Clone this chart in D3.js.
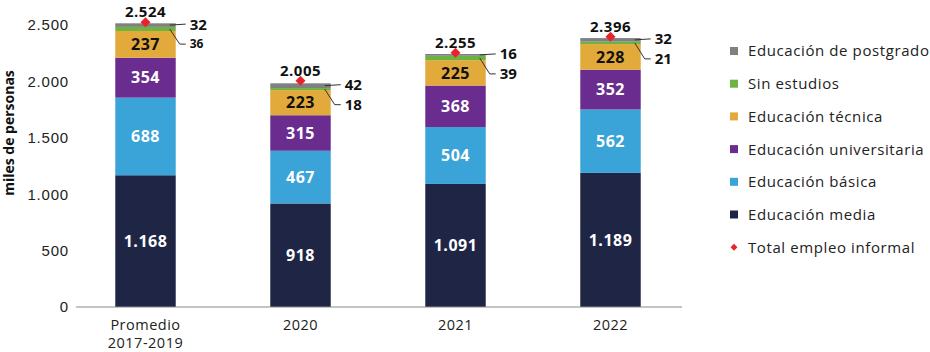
<!DOCTYPE html>
<html>
<head>
<meta charset="utf-8">
<script src="https://cdn.jsdelivr.net/npm/d3@7"></script>
<style>
  body { margin: 0; background: #fff; }
  svg { font-family: "Open Sans", "Noto Sans", sans-serif; }
</style>
</head>
<body>
<svg id="chart"></svg>
<script>
// data
const categories = ["Promedio 2017-2019", "2020", "2021", "2022"];
const media = [1168, 918, 1091, 1189];
const basica = [688, 467, 504, 562];
const universitaria = [354, 315, 368, 352];
const tecnica = [237, 223, 225, 228];
const sinEstudios = [36, 18, 39, 21];
const postgrado = [32, 42, 16, 32];
const totalInformal = [2524, 2005, 2255, 2396];
const yTicks = [0, 500, 1000, 1500, 2000, 2500];

const series = [
    {name: "Educación media", values: media, color: "#1f2645", text: "#fff"},
    {name: "Educación básica", values: basica, color: "#3aa3d8", text: "#fff"},
    {name: "Educación universitaria", values: universitaria, color: "#6a2d8f", text: "#fff"},
    {name: "Educación técnica", values: tecnica, color: "#e2a93b", text: "#111"},
    {name: "Sin estudios", values: sinEstudios, color: "#6db33f", text: null},
    {name: "Educación de postgrado", values: postgrado, color: "#808080", text: null}
];

const width = 930, height = 352;
const svg = d3.select("#chart").attr("width", width).attr("height", height);

const locale = d3.formatLocale({decimal: ",", thousands: ".", grouping: [3], currency: ["$", ""]});
const fmt = locale.format(",d");

// scales
const x = d3.scaleBand().domain(categories).range([68, 688]).paddingInner(0.61).paddingOuter(0.305);
const y = d3.scaleLinear().domain([0, 2500]).range([307, 25]);

// stack
const table = categories.map((c, i) => {
    let row = {cat: c};
    series.forEach(s => row[s.name] = s.values[i]);
    return row;
});
const stacked = d3.stack().keys(series.map(s => s.name))(table);

// y axis
const yAxis = svg.append("g")
    .attr("transform", "translate(76,0)")
    .call(d3.axisLeft(y).tickValues(yTicks).tickFormat(fmt).tickSize(0).tickPadding(7));
yAxis.select(".domain").remove();
yAxis.selectAll("text").attr("font-size", "15px").attr("letter-spacing", "0.8px").attr("fill", "#222");

svg.append("text")
    .attr("transform", "translate(14,133) rotate(-90)")
    .attr("text-anchor", "middle")
    .attr("font-size", "14px")
    .attr("font-weight", "bold")
    .attr("fill", "#111")
    .text("miles de personas");

// bars
stacked.forEach((layer, li) => {
    const s = series[li];
    const g = svg.append("g");
    g.selectAll("rect")
        .data(layer)
        .join("rect")
        .attr("x", d => x(d.data.cat))
        .attr("y", d => y(d[1]))
        .attr("width", x.bandwidth())
        .attr("height", d => y(d[0]) - y(d[1]))
        .attr("fill", s.color);
    if (s.text) {
        g.selectAll("text")
            .data(layer)
            .join("text")
            .attr("x", d => x(d.data.cat) + x.bandwidth() / 2)
            .attr("y", d => (y(d[0]) + y(d[1])) / 2)
            .attr("dy", "0.36em")
            .attr("text-anchor", "middle")
            .attr("font-size", "16px")
            .attr("font-weight", "bold")
            .attr("letter-spacing", "0.5px")
            .attr("fill", s.text)
            .text(d => fmt(d[1] - d[0]));
    }
});

// x axis line
svg.append("line")
    .attr("x1", 76).attr("x2", 682)
    .attr("y1", y(0)).attr("y2", y(0))
    .attr("stroke", "#888").attr("stroke-width", 1);

// x labels (two lines for the first category)
const xLabels = svg.append("g");
categories.forEach(c => {
    const parts = c.startsWith("Promedio") ? ["Promedio", "2017-2019"] : [c];
    parts.forEach((p, i) => {
        xLabels.append("text")
            .attr("x", x(c) + x.bandwidth() / 2)
            .attr("y", 330 + i * 18)
            .attr("text-anchor", "middle")
            .attr("font-size", "14.5px")
            .attr("letter-spacing", "0.5px")
            .attr("fill", "#222")
            .text(p);
    });
});

// callouts for small segments
const sinLayer = stacked[4], postLayer = stacked[5];
categories.forEach((c, i) => {
    const right = x(c) + x.bandwidth();
    const pCenter = (y(postLayer[i][0]) + y(postLayer[i][1])) / 2;
    const sCenter = (y(sinLayer[i][0]) + y(sinLayer[i][1])) / 2;
    const ly1 = pCenter - 1;
    const ly2 = ly1 + 20;
    const lx = right + 14;

    svg.append("polyline")
        .attr("points", `${right - 6},${pCenter} ${lx - 4},${ly1}`)
        .attr("fill", "none").attr("stroke", "#333").attr("stroke-width", 1);
    svg.append("polyline")
        .attr("points", `${right - 6},${sCenter} ${right + 4},${ly2} ${lx - 4},${ly2}`)
        .attr("fill", "none").attr("stroke", "#333").attr("stroke-width", 1);

    svg.append("text")
        .attr("x", lx).attr("y", ly1).attr("dy", "0.36em")
        .attr("font-size", "15px").attr("font-weight", "bold").attr("fill", "#111")
        .text(fmt(postgrado[i]));
    svg.append("text")
        .attr("x", lx).attr("y", ly2).attr("dy", "0.36em")
        .attr("font-size", i === 0 ? "12px" : "15px").attr("font-weight", "bold").attr("fill", "#111")
        .text(fmt(sinEstudios[i]));
});

// total markers
const totals = svg.append("g");
totals.selectAll("path")
    .data(totalInformal)
    .join("path")
    .attr("transform", (d, i) => `translate(${x(categories[i]) + x.bandwidth() / 2},${y(d)})`)
    .attr("d", d3.symbol().type(d3.symbolDiamond2).size(64))
    .attr("fill", "#e8242a");
totals.selectAll("text")
    .data(totalInformal)
    .join("text")
    .attr("x", (d, i) => x(categories[i]) + x.bandwidth() / 2)
    .attr("y", d => y(d) - 5)
    .attr("text-anchor", "middle")
    .attr("font-size", "15px")
    .attr("font-weight", "bold")
    .attr("letter-spacing", "0.5px")
    .attr("fill", "#111")
    .text(d => fmt(d));

// legend
const legendItems = series.slice().reverse().map(s => ({name: s.name, color: s.color, shape: "square"}));
legendItems.push({name: "Total empleo informal", color: "#e8242a", shape: "diamond"});
const legend = svg.append("g").attr("transform", "translate(730,51)");
legendItems.forEach((d, i) => {
    const g = legend.append("g").attr("transform", `translate(0,${i * 32.7})`);
    if (d.shape === "square") {
        g.append("rect").attr("x", 0).attr("y", -4).attr("width", 8).attr("height", 8).attr("fill", d.color);
    } else {
        g.append("path").attr("transform", "translate(4,0)")
            .attr("d", d3.symbol().type(d3.symbolDiamond2).size(30)).attr("fill", d.color);
    }
    g.append("text")
        .attr("x", 18).attr("y", 0).attr("dy", "0.36em")
        .attr("font-size", "15px").attr("letter-spacing", "0.6px").attr("fill", "#222")
        .text(d.name);
});
</script>
</body>
</html>
